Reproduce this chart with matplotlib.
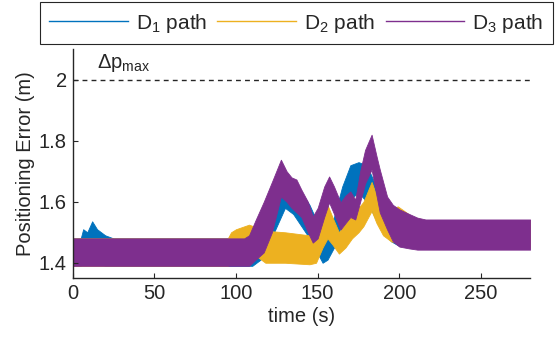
import matplotlib
matplotlib.use("Agg")
import matplotlib.pyplot as plt
from matplotlib.lines import Line2D

plt.rcParams['font.family'] = ['Liberation Sans', 'DejaVu Sans']
plt.rcParams['text.color'] = '#262626'
plt.rcParams['axes.labelcolor'] = '#262626'
plt.rcParams['xtick.color'] = '#262626'
plt.rcParams['ytick.color'] = '#262626'

# envelope of each oscillating error signal (time, lower, upper)
d1_t = [0, 5, 6.5, 9, 12, 15, 20, 25, 110, 115, 120, 125, 130, 135, 140, 145, 150, 153, 156,
        160, 165, 170, 175, 180, 185, 190, 195, 200, 210, 280]
d1_lo = [1.39, 1.39, 1.40, 1.40, 1.41, 1.40, 1.39, 1.39, 1.39, 1.41, 1.46, 1.52, 1.58, 1.56, 1.52,
         1.48, 1.43, 1.40, 1.41, 1.45, 1.53, 1.61, 1.63, 1.60, 1.55, 1.50, 1.47, 1.455, 1.45, 1.45]
d1_hi = [1.48, 1.48, 1.51, 1.50, 1.536, 1.51, 1.49, 1.48, 1.48, 1.52, 1.58, 1.63, 1.675, 1.665, 1.63,
         1.59, 1.53, 1.50, 1.51, 1.55, 1.65, 1.72, 1.73, 1.72, 1.66, 1.60, 1.56, 1.545, 1.54, 1.54]

d2_t = [0, 95, 97, 100, 108, 113, 118, 130, 145, 149, 153, 156, 159, 163, 167, 171, 175, 178,
        183, 186, 190, 195, 199, 203, 208, 215, 280]
d2_lo = [1.39, 1.39, 1.41, 1.42, 1.43, 1.42, 1.40, 1.40, 1.395, 1.40, 1.45, 1.48, 1.46, 1.43, 1.45,
         1.48, 1.50, 1.52, 1.57, 1.53, 1.49, 1.47, 1.465, 1.46, 1.45, 1.45, 1.45]
d2_hi = [1.48, 1.48, 1.50, 1.51, 1.525, 1.515, 1.505, 1.50, 1.49, 1.49, 1.56, 1.59, 1.55, 1.50, 1.53,
         1.56, 1.58, 1.60, 1.665, 1.62, 1.59, 1.575, 1.585, 1.57, 1.55, 1.54, 1.54]

d3_t = [0, 105, 108, 112, 117, 122, 127.5, 131, 134, 137, 140, 144, 147, 150, 154, 157, 160, 164,
        167, 170, 173, 176, 179, 183, 186, 188, 192.5, 196, 200, 206, 211, 216, 280]
d3_lo = [1.39, 1.39, 1.39, 1.41, 1.434, 1.50, 1.617, 1.60, 1.58, 1.565, 1.55, 1.50, 1.466, 1.48,
         1.55, 1.598, 1.56, 1.509, 1.53, 1.55, 1.542, 1.60, 1.66, 1.706, 1.62, 1.565, 1.509, 1.47,
         1.453, 1.447, 1.443, 1.443, 1.443]
d3_hi = [1.48, 1.48, 1.49, 1.54, 1.60, 1.665, 1.738, 1.70, 1.68, 1.673, 1.64, 1.60, 1.552, 1.58,
         1.65, 1.683, 1.65, 1.598, 1.62, 1.634, 1.607, 1.70, 1.77, 1.82, 1.75, 1.706, 1.617, 1.59,
         1.575, 1.56, 1.548, 1.542, 1.542]

dp_max = 2.0

colors = ['#0072BD', '#EDB120', '#7E2F8E']
labels = ['D$_\\mathregular{1}$ path', 'D$_\\mathregular{2}$ path', 'D$_\\mathregular{3}$ path']

fig = plt.figure(figsize=(5.58, 3.46), dpi=100)
ax = fig.add_axes([0.130, 0.1965, 0.820, 0.661])

series = [(d1_t, d1_lo, d1_hi), (d2_t, d2_lo, d2_hi), (d3_t, d3_lo, d3_hi)]
for (t, lo, hi), c in zip(series, colors):
    ax.fill_between(t, lo, hi, color=c, linewidth=0.6, edgecolor=c)

ax.axhline(dp_max, color='#262626', linestyle=(0, (3.5, 3)), linewidth=1)
ax.text(15, 2.04, 'Δp$_\\mathregular{max}$', fontsize=14.5, va='baseline', ha='left')

ax.set_xlim(0, 280)
ax.set_ylim(1.35, 2.1)
ax.set_xticks([0, 50, 100, 150, 200, 250])
ax.set_yticks([1.4, 1.6, 1.8, 2.0])
ax.set_yticklabels(['1.4', '1.6', '1.8', '2'])
ax.tick_params(direction='in', length=3.5, width=0.8, labelsize=14.5, pad=4)
for s in ['top', 'right']:
    ax.spines[s].set_visible(False)
for s in ['left', 'bottom']:
    ax.spines[s].set_color('#262626')
    ax.spines[s].set_linewidth(1.0)

ax.set_xlabel('time (s)', fontsize=14.5, labelpad=3)
ax.set_ylabel('Positioning Error (m)', fontsize=14.5, labelpad=3)

handles = [Line2D([], [], color=c, linewidth=1) for c in colors]
leg = fig.legend(handles, labels, loc='center', bbox_to_anchor=(0.531, 0.9335), ncol=3,
                 fontsize=15, handlelength=3.75, handletextpad=0.4, columnspacing=0.5,
                 fancybox=False, framealpha=1, borderpad=0.45)
leg.get_frame().set_edgecolor('#262626')
leg.get_frame().set_linewidth(0.8)

fig.savefig('out.png', dpi=100)
